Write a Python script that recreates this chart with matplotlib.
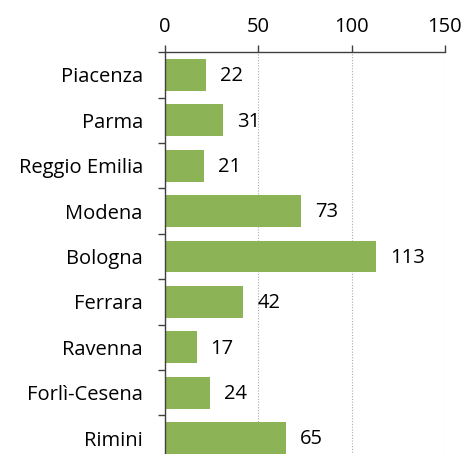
import numpy as np
from matplotlib import pyplot as plt

provinces = ["Piacenza", "Parma", "Reggio Emilia", "Modena", "Bologna",
             "Ferrara", "Ravenna", "Forlì-Cesena", "Rimini"]
values = [22, 31, 21, 73, 113, 42, 17, 24, 65]
x_ticks = [0, 50, 100, 150]

plt.rcParams["font.family"] = ["Open Sans", "DejaVu Sans"]

fig = plt.figure(figsize=(4.64, 4.54), dpi=100)
ax = fig.add_axes([0.3556, -0.015, 0.6034, 0.9])

y = np.arange(len(provinces))
ax.barh(y, values, height=0.7, color="#8CB356", zorder=2)
for yi, v in zip(y, values):
    ax.annotate(str(v), (v, yi), xytext=(10, -1), textcoords="offset points",
                va="center", ha="left", fontsize=14.5)

ax.set_xlim(0, 150)
ax.set_ylim(len(provinces) - 0.5, -0.5)
ax.xaxis.tick_top()
ax.set_xticks(x_ticks)
ax.tick_params(axis="x", direction="out", length=5, width=1, color="#404040",
               labelsize=14.5, pad=6)
ax.grid(axis="x", linestyle=(0, (1, 1.5)), color="#aaaaaa", linewidth=0.8, zorder=0)

ax.set_yticks(y)
ax.set_yticklabels(provinces, fontsize=14.5)
ax.tick_params(axis="y", which="major", length=0, pad=16)
ax.set_yticks(np.arange(-0.5, len(provinces), 1), minor=True)
ax.tick_params(axis="y", which="minor", length=5, width=1, color="#404040")

for s in ["right", "bottom"]:
    ax.spines[s].set_visible(False)
for s in ["top", "left"]:
    ax.spines[s].set_color("#404040")
    ax.spines[s].set_linewidth(1)

fig.savefig("out.png", dpi=100)
